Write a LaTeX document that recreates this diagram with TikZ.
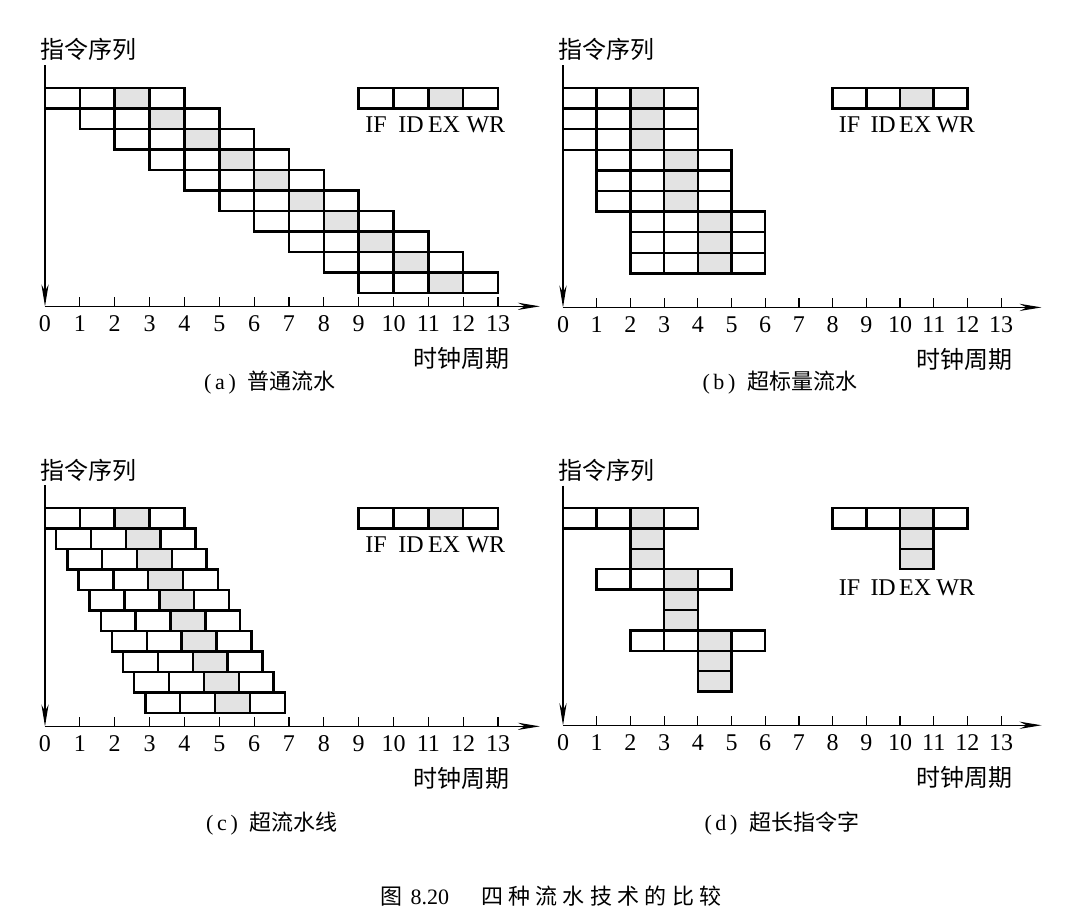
\documentclass[tikz,border=0pt]{standalone}
\usepackage{fontspec}
\setmainfont{Liberation Serif}
\newfontfamily\cjk{Noto Sans CJK SC}
\newfontfamily\cjkwide[LetterSpace=24]{Noto Sans CJK SC}
\usetikzlibrary{arrows.meta}

\tikzset{
  cell/.style={draw, line width=1.25pt},
  exfill/.style={fill=gray!22},
  axisline/.style={line width=0.6pt},
  axisarrow/.style={axisline, -{Stealth[length=11pt,width=3.6pt]}},
  ticklabel/.style={font=\fontsize{12}{12}\selectfont, inner sep=0pt},
  stagelabel/.style={font=\fontsize{12}{12}\selectfont, inner sep=0pt},
  seqlabel/.style={font=\cjk\fontsize{12}{12}\selectfont, anchor=west, inner sep=0pt},
  clklabel/.style={font=\cjk\fontsize{12}{12}\selectfont, anchor=east, inner sep=0pt},
  caption/.style={font=\fontsize{11}{11}\selectfont, inner sep=0pt}
}

% one instruction: IF ID EX WR, EX shaded
\newcommand{\instr}[2]{%
  \fill[exfill] (#1+2,#2) rectangle ++(1,1);
  \foreach \s in {0,...,3} \draw[cell] (#1+\s,#2) rectangle ++(1,1);
}
% a single extra EX cell
\newcommand{\excell}[2]{\draw[cell, exfill] (#1,#2) rectangle ++(1,1);}
% axes, ticks and axis labels of one panel
\newcommand{\clockaxis}[1]{%
  \coordinate (#1top) at (0,-1.1);
  \coordinate (#1o) at (0,10.65);
  \coordinate (#1end) at (14.2,10.65);
  \draw[axisarrow] (#1top) -- (#1o);
  \draw[axisarrow] (#1o) -- (#1end);
  \foreach \k in {1,...,13} \draw[axisline] (\k,10.65) -- ++(0,-0.44);
  \foreach \k in {0,...,13} \node[ticklabel] (#1t\k) at (\k,11.5) {\k};
  \node[seqlabel] (#1seq) at (-0.14,-1.86) {指令序列};
  \node[clklabel] (#1clk) at (13.35,13.2) {时钟周期};
}
% stage names under a legend
\newcommand{\stagenames}[3]{%
  \foreach \n/\dx in {IF/0.5,ID/1.5,EX/2.45,WR/3.65}
    \node[stagelabel] (#1\n) at (#2+\dx,#3) {\n};
}

\begin{document}
\begin{tikzpicture}[x=0.5pt,y=-0.5pt]
  \useasboundingbox (0,0) rectangle (1091,922);

  % (a) ordinary pipeline
  \begin{scope}[shift={(45,88)}, x=17.425pt, y=-10.25pt]
    \foreach \r in {0,...,9} {\instr{\r}{\r}}
    \instr{9}{0}
    \stagenames{a}{9}{1.8}
    \clockaxis{a}
  \end{scope}

  % (b) superscalar
  \begin{scope}[shift={(563,88)}, x=16.85pt, y=-10.3pt]
    \foreach \r [evaluate=\r as \c using {int(\r/3)}] in {0,...,8} {\instr{\c}{\r}}
    \instr{8}{0}
    \stagenames{b}{8}{1.8}
    \clockaxis{b}
  \end{scope}

  % (c) superpipeline
  \begin{scope}[shift={(45,508)}, x=17.425pt, y=-10.25pt]
    \foreach \r in {0,...,9} {\instr{0.32*\r}{\r}}
    \instr{9}{0}
    \stagenames{c}{9}{1.8}
    \clockaxis{c}
  \end{scope}

  % (d) VLIW
  \begin{scope}[shift={(563,508)}, x=16.85pt, y=-10.2pt]
    \instr{0}{0} \excell{2}{1} \excell{2}{2}
    \instr{1}{3} \excell{3}{4} \excell{3}{5}
    \instr{2}{6} \excell{4}{7} \excell{4}{8}
    \instr{8}{0} \excell{10}{1} \excell{10}{2}
    \stagenames{d}{8}{3.9}
    \clockaxis{d}
  \end{scope}

  \node[caption] (capa) at (270,383) {(\,a\,)\hspace{6pt}{\cjk 普通流水}};
  \node[caption] (capb) at (780,383) {(\,b\,)\hspace{6pt}{\cjk 超标量流水}};
  \node[caption] (capc) at (272,824) {(\,c\,)\hspace{6pt}{\cjk 超流水线}};
  \node[caption] (capd) at (782,824) {(\,d\,)\hspace{6pt}{\cjk 超长指令字}};
  \node[caption] (fig) at (551,896) {{\cjk 图}\hspace{4pt}8.20\hspace{16pt}{\cjkwide 四种流水技术的比较}};
\end{tikzpicture}
\end{document}
